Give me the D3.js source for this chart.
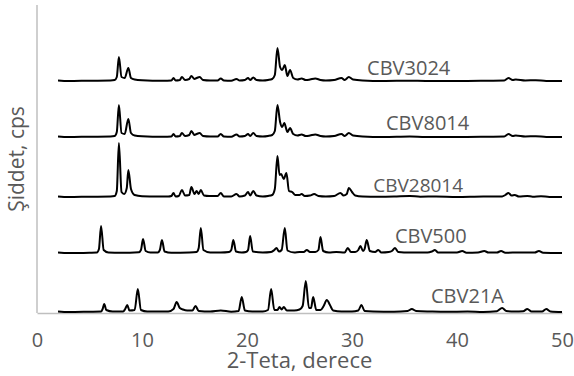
<!DOCTYPE html>
<html>
<head>
<meta charset="utf-8">
<script src="https://cdn.jsdelivr.net/npm/d3@7"></script>
<style>
  html, body { margin: 0; padding: 0; background: #fff; }
  svg text { font-family: "Open Sans", "DejaVu Sans", sans-serif; fill: #595959; }
</style>
</head>
<body>
<svg id="chart" width="574" height="376"></svg>
<script>
// Sample names (bottom to top) and vertical stacking offsets
const seriesNames = ['CBV21A', 'CBV500', 'CBV28014', 'CBV8014', 'CBV3024'];
const seriesOffsets = [1, 60, 116, 176, 232];

// Label anchor per series: [2-theta, intensity above own baseline]
const labelPos = [[41.0, 9], [37.5, 10], [36.3, 5], [37.2, 7], [35.4, 6]];

// Intensity traces, [2-theta, intensity]
const cbv21a = [
  [2, 0.5], [3, 0], [5, 0.3], [6.1, 0.5], [6.25, 3], [6.4, 8], [6.6, 2], [7.2, 0.5], [8.2, 0.5], [8.4, 3], [8.6, 7], [8.8, 1.5],
  [9.3, 2], [9.6, 23], [9.9, 2], [10.5, 0.5], [12.5, 0.5], [13.0, 3], [13.3, 10], [13.6, 4], [13.9, 2.5], [14.3, 1.5],
  [14.8, 1.5], [15.1, 6], [15.4, 1], [16.5, 0.5], [17.5, 1.5], [18.5, 0.3], [19.2, 1], [19.5, 15], [19.8, 1.5], [20.5, 0.5],
  [21.5, 0.5], [22.0, 2], [22.3, 23], [22.6, 2], [22.9, 2], [23.1, 5], [23.3, 2.5], [23.5, 5], [23.8, 1.5], [24.5, 1.5],
  [25.0, 2.5], [25.3, 6], [25.6, 31], [25.9, 4], [26.1, 4], [26.3, 15], [26.6, 2], [27.0, 2], [27.3, 6], [27.6, 12], [27.9, 7], [28.2, 1.5],
  [29.0, 0.5], [30.0, 0.5], [30.6, 1.5], [30.9, 7], [31.2, 1], [32, 0.5], [34, 0.3], [35.3, 1], [35.7, 3], [36.1, 1], [37.5, 0.5],
  [39, 0.2], [41, 0.5], [42.5, 0], [43.8, 0.8], [44.3, 4], [44.7, 1], [45.5, 0.5], [46.3, 0.8], [46.7, 3], [47.1, 0.5],
  [48.1, 0.5], [48.5, 3], [48.9, 0.5], [50, 0]
];
const cbv500 = [
  [2, 0.5], [3, 0], [5, 0.3], [5.7, 0.5], [5.9, 4], [6.1, 27], [6.35, 3], [6.8, 0.5], [8, 0.3], [9.7, 0.8], [9.9, 3], [10.1, 14],
  [10.35, 2], [10.8, 0.5], [11.5, 0.5], [11.7, 3], [11.9, 13], [12.15, 1.5], [12.8, 0.2], [14.5, 0.5], [15.2, 1], [15.4, 5],
  [15.6, 25], [15.85, 3], [16.5, 0.5], [17.5, 0.5], [18.3, 1], [18.5, 3], [18.7, 13], [18.95, 1.5], [19.5, 0.5], [19.9, 1],
  [20.1, 3], [20.3, 17], [20.55, 1.5], [21.5, 0.5], [22.3, 1], [22.6, 3], [22.8, 5], [23.05, 1.5], [23.3, 3], [23.6, 25],
  [23.85, 2.5], [24.5, 0.5], [25.0, 1], [25.4, 1], [25.7, 3], [26.0, 1], [26.5, 1], [26.8, 3], [27.0, 16], [27.25, 2],
  [27.8, 0.5], [28.5, 1], [29.3, 0.5], [29.6, 5], [29.9, 1], [30.3, 1], [30.6, 3], [30.8, 7], [31.05, 2], [31.2, 4], [31.4, 13], [31.7, 2],
  [32.2, 1], [32.5, 3], [32.8, 0.5], [33.5, 1], [33.8, 2], [34.1, 5], [34.4, 1], [35.5, 0.5], [37.2, 0.5], [37.6, 1.5], [37.9, 3],
  [38.2, 0.5], [40, 0.5], [40.5, 2], [40.9, 0.3], [42, 0.5], [42.6, 2], [43, 0.5], [43.8, 0.5], [44.2, 2], [44.6, 0.3],
  [46, 0.5], [47.4, 0.5], [47.8, 2], [48.2, 0.3], [50, 0]
];
const cbv28014 = [
  [2, 0.5], [3, 0], [5, 0.3], [7.0, 0.5], [7.4, 1], [7.6, 6], [7.8, 54], [8.05, 5], [8.3, 3], [8.55, 9], [8.7, 27], [8.95, 8],
  [9.3, 2], [10, 0.8], [11.5, 0.5], [12.5, 0.5], [12.8, 1], [13.0, 4], [13.2, 0.5], [13.5, 1], [13.8, 7], [14.1, 1.5],
  [14.5, 2], [14.7, 10], [15.0, 3], [15.2, 6], [15.4, 3], [15.6, 7], [15.9, 1.5], [16.4, 1], [16.8, 1], [17.2, 1],
  [17.5, 4], [17.8, 0.5], [18.5, 0.5], [19.0, 3], [19.3, 0.5], [19.8, 1.5], [20.1, 5], [20.3, 1.5], [20.6, 6], [20.9, 1.5],
  [21.5, 0.5], [22.0, 1], [22.4, 2], [22.65, 8], [22.9, 41], [23.1, 22], [23.25, 23], [23.5, 18], [23.75, 24], [24.0, 6],
  [24.3, 5], [24.6, 2], [25.0, 2], [25.2, 3], [25.5, 1], [26.0, 1.5], [26.4, 3], [26.8, 1], [27.5, 0.5], [28.3, 1],
  [28.9, 4], [29.2, 1.5], [29.5, 3], [29.7, 9], [30.0, 5], [30.3, 1.5], [31, 0.5], [32.5, 0.3], [34, 0.5], [35.5, 1],
  [36.5, 0.3], [38, 0.5], [40, 0], [42.5, 0.5], [44.3, 0.5], [44.6, 2], [44.9, 4], [45.2, 1.5], [45.5, 2], [45.9, 0.5],
  [46.7, 1], [47.2, 0.3], [48, 0.8], [48.8, 0], [50, 0]
];
const cbv8014 = [
  [2, 0.5], [3, 0], [5, 0.3], [7.0, 0.5], [7.4, 1], [7.6, 5], [7.8, 32], [8.05, 4], [8.35, 3], [8.7, 18], [8.95, 4],
  [9.3, 1.5], [10, 0.8], [12, 0.3], [12.8, 0.5], [13.0, 3], [13.2, 0.5], [13.6, 1], [13.8, 4], [14.1, 1], [14.5, 2],
  [14.7, 6], [15.0, 2], [15.2, 3], [15.5, 4], [15.8, 1], [16.5, 0.5], [17.2, 0.5], [17.5, 3], [17.8, 0.5], [18.5, 0.3],
  [19.0, 2.5], [19.3, 0.5], [19.8, 1], [20.1, 3], [20.3, 1], [20.6, 4], [20.9, 1], [21.5, 0.5], [22.0, 1], [22.4, 2],
  [22.65, 6], [22.9, 32], [23.15, 15], [23.35, 10], [23.55, 14], [23.85, 5], [24.1, 9], [24.4, 3], [24.8, 1.5],
  [25.2, 2.5], [25.6, 1], [26.0, 1.5], [26.5, 2.5], [27, 1], [27.5, 0.5], [28.3, 1], [29.0, 3], [29.3, 1], [29.7, 4],
  [30.1, 1.5], [31, 0.5], [33, 0], [35.5, 0.5], [37, 0], [40, 0], [43, 0.3], [44.5, 0.5], [44.9, 3], [45.3, 1],
  [45.6, 1.5], [46.5, 0.5], [47.5, 0.8], [48.5, 0], [50, 0]
];
const cbv3024 = [
  [2, 0.5], [3, 0], [5, 0.3], [7.0, 0.5], [7.4, 1], [7.6, 4], [7.8, 24], [8.05, 4], [8.35, 3], [8.7, 13], [8.95, 3],
  [9.3, 1.5], [10, 0.8], [12, 0.3], [12.8, 0.5], [13.0, 3], [13.2, 0.5], [13.6, 1], [13.8, 4], [14.1, 1], [14.5, 2],
  [14.7, 5], [15.0, 2], [15.2, 3], [15.5, 4], [15.8, 1], [16.5, 0.5], [17.2, 0.5], [17.5, 2.5], [17.8, 0.5], [18.5, 0.3],
  [19.0, 2], [19.3, 0.5], [19.8, 1], [20.1, 3], [20.3, 1], [20.6, 3.5], [20.9, 1], [21.5, 0.5], [22.0, 1], [22.4, 2],
  [22.65, 6], [22.9, 33], [23.15, 14], [23.35, 11], [23.6, 16], [23.85, 5], [24.1, 11], [24.4, 3], [24.8, 1.5],
  [25.2, 2.5], [25.6, 1], [26.0, 1.5], [26.5, 2.5], [27, 1], [27.5, 0.5], [28.3, 1], [29.0, 3], [29.3, 1], [29.7, 4],
  [30.1, 1.5], [31, 0.5], [33, 0], [35.5, 0.3], [37, 0], [40, 0], [43, 0.3], [44.5, 0.5], [44.9, 3], [45.3, 1],
  [45.6, 1.5], [46.5, 0.5], [47.5, 0.8], [48.5, 0], [50, 0]
];
const traces = [cbv21a, cbv500, cbv28014, cbv8014, cbv3024];

const xTicks = [0, 10, 20, 30, 40, 50];

const svg = d3.select('#chart');
const plot = { left: 37, right: 562, top: 5, bottom: 313 };

const x = d3.scaleLinear().domain([0, 50]).range([plot.left, plot.right]);
const y = d3.scaleLinear().domain([0, 308]).range([plot.bottom, plot.top]);

// Axis lines (light grey, as in the spreadsheet chart)
svg.append('line')
  .attr('x1', plot.left).attr('x2', plot.left)
  .attr('y1', plot.top).attr('y2', plot.bottom)
  .attr('stroke', '#bfbfbf').attr('stroke-width', 1.5);

const xAxis = svg.append('g')
  .attr('transform', `translate(0,${plot.bottom})`)
  .call(d3.axisBottom(x).tickValues(xTicks).tickSize(0).tickPadding(20));
xAxis.select('.domain').attr('stroke', '#bfbfbf').attr('stroke-width', 1.5);
xAxis.selectAll('text')
  .style('font-size', '20px')
  .style('fill', '#595959');

// Traces
const line = d3.line()
  .x(d => x(d[0]))
  .y(d => y(d[1]))
  .curve(d3.curveMonotoneX);

traces.forEach((tr, i) => {
  const off = seriesOffsets[i];
  svg.append('path')
    .datum(tr.map(d => [d[0], d[1] + off]))
    .attr('d', line)
    .attr('fill', 'none')
    .attr('stroke', '#000')
    .attr('stroke-width', 2)
    .attr('stroke-linejoin', 'round');
});

// Series labels
seriesNames.forEach((name, i) => {
  svg.append('text')
    .attr('x', x(labelPos[i][0]))
    .attr('y', y(seriesOffsets[i] + labelPos[i][1]))
    .attr('text-anchor', 'middle')
    .style('font-size', i === 2 ? '19px' : '20px')
    .text(name);
});

// Axis titles
svg.append('text')
  .attr('x', (plot.left + plot.right) / 2)
  .attr('y', 368)
  .attr('text-anchor', 'middle')
  .style('font-size', '22px')
  .text('2-Teta, derece');

svg.append('text')
  .attr('transform', `translate(17,${(plot.top + plot.bottom) / 2}) rotate(-90)`)
  .attr('text-anchor', 'middle')
  .attr('dy', '0.35em')
  .style('font-size', '21px')
  .text('Şiddet, cps');
</script>
</body>
</html>
